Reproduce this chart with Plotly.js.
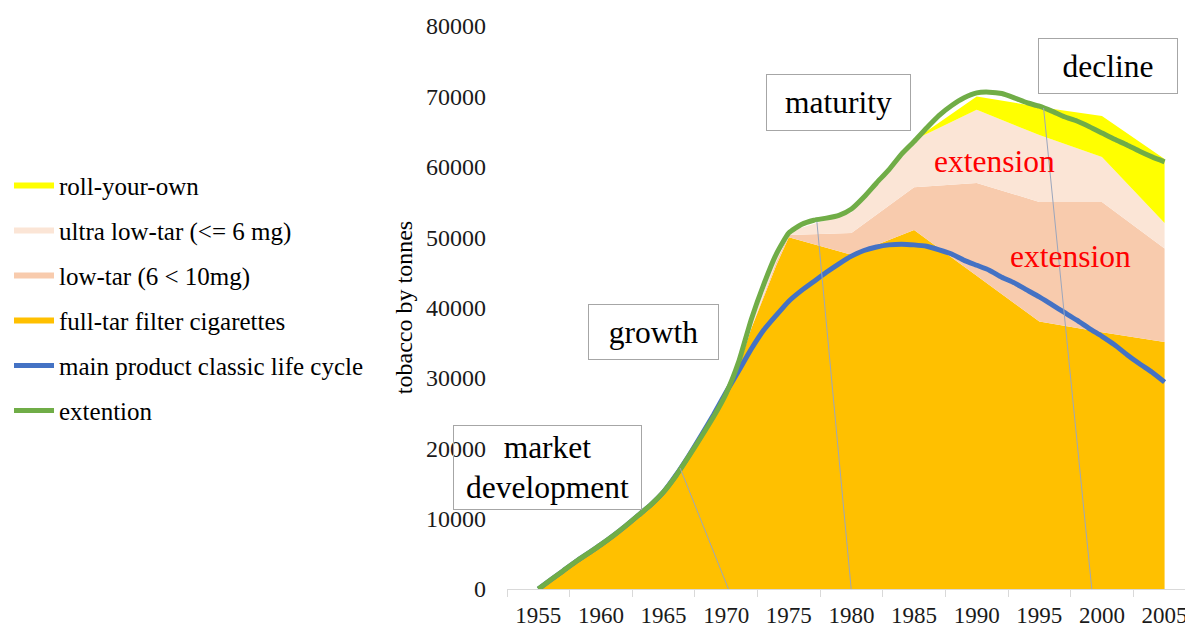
<!DOCTYPE html>
<html><head><meta charset="utf-8">
<script src="https://cdn.plot.ly/plotly-3.0.1.min.js"></script>
<style>html,body{margin:0;padding:0;background:#fff}#chart{width:1185px;height:628px}</style>
</head><body><div id="chart"></div>
<script>
// ---- data ----
const lineYears = [1955,1956,1957,1958,1959,1960,1961,1962,1963,1964,1965,1966,1967,1968,1969,1970,1971,1972,1973,1974,1975,1976,1977,1978,1979,1980,1981,1982,1983,1984,1985,1986,1987,1988,1989,1990,1991,1992,1993,1994,1995,1996,1997,1998,1999,2000,2001,2002,2003,2004,2005];
const extention = [0,1300,2600,3900,5100,6300,7600,9000,10500,12000,13800,16100,18800,21600,24500,27800,32300,38300,43300,47600,50600,51800,52400,52700,53100,54000,55700,57700,59600,61800,63600,65500,67300,68700,69800,70500,70600,70400,69800,69100,68600,67900,67100,66500,65700,64800,63900,63100,62200,61400,60700];
const mainProduct = [0,1300,2600,3900,5100,6300,7600,9000,10500,12000,13800,16200,18900,21800,24800,28000,31000,34100,36800,38900,40900,42400,43700,45000,46200,47300,48100,48600,48900,49000,48900,48700,48200,47600,46700,46000,45300,44300,43500,42500,41500,40400,39300,38200,37000,35900,34700,33300,32000,30800,29400];

const areaYears = [1955,1956,1957,1958,1959,1960,1961,1962,1963,1964,1965,1966,1967,1968,1969,1970,1971,1972,1973,1974,1975,1980,1985,1990,1995,2000,2005];
const fullTar     = [0,1100,2400,3700,4900,6100,7400,8800,10300,11800,13600,15900,18600,21400,24300,27600,31500,37000,41500,46000,50000,47500,51000,44500,38000,36500,35100];
const lowTar      = [0,0,0,0,0,0,0,0,0,0,0,0,0,0,0,0,0,0,300,500,300,3100,6100,13200,17000,18500,13300];
const ultraLowTar = [0,0,0,0,0,0,0,0,0,0,0,0,0,0,0,0,0,600,1000,1200,500,2900,6700,10400,9500,6400,3600];
const rollYourOwn = [0,0,0,0,0,0,0,0,0,0,0,0,0,0,0,0,0,0,0,0,0,0,0,1900,4000,5800,9100];

const tickYears = [1955,1960,1965,1970,1975,1980,1985,1990,1995,2000,2005];
const yTicks = [0,10000,20000,30000,40000,50000,60000,70000,80000];

// ---- traces ----
const FONT = '"Liberation Serif", "Times New Roman", serif';
function area(name, y, color, rank) {
  return {type:'scatter', mode:'none', x:areaYears, y:y, name:name, stackgroup:'one',
    fillcolor:color, line:{width:0}, legendgroup:name, legendrank:rank, hoverinfo:'x+y+name'};
}
const traces = [
  area('full-tar filter cigarettes', fullTar, '#FFC000', 4),
  area('low-tar (6 < 10mg)', lowTar, '#F8CBAD', 3),
  area('ultra low-tar (<= 6 mg)', ultraLowTar, '#FBE5D6', 2),
  area('roll-your-own', rollYourOwn, '#FFFF00', 1),
  {type:'scatter', mode:'lines', x:lineYears, y:mainProduct, name:'main product classic life cycle',
   line:{color:'#4472C4', width:5, shape:'spline', smoothing:0.5}, legendgroup:'main', legendrank:5},
  {type:'scatter', mode:'lines', x:lineYears, y:extention, name:'extention',
   line:{color:'#70AD47', width:5, shape:'spline', smoothing:0.5}, legendgroup:'ext', legendrank:6}
];

function box(text, x, y, w, h) {
  return {text:text, x:x, y:y, xref:'x', yref:'y', showarrow:false, width:w, height:h,
    bordercolor:'#a6a6a6', borderwidth:1, borderpad:0, bgcolor:'rgba(255,255,255,0)',
    font:{family:FONT, size:31.5, color:'#000'}, align:'center', valign:'middle'};
}
function red(text, x, y) {
  return {text:text, x:x, y:y, xref:'x', yref:'y', showarrow:false,
    font:{family:FONT, size:31.5, color:'#FF0000'}};
}
function guide(x0, y0, x1, y1) {
  return {type:'line', xref:'x', yref:'y', x0:x0, y0:y0, x1:x1, y1:y1,
    line:{color:'#9ba6bd', width:1}};
}

const layout = {
  width:1185, height:628,
  margin:{l:507, r:0, t:26, b:39},
  paper_bgcolor:'#ffffff', plot_bgcolor:'rgba(0,0,0,0)',
  font:{family:FONT, color:'#000'},
  showlegend:true,
  legend:{xref:'container', yref:'container', x:0.0076, y:0.741, xanchor:'left', yanchor:'top',
    font:{family:FONT, size:25, color:'#000'}, itemwidth:40, traceorder:'grouped', tracegroupgap:9.5,
    bgcolor:'rgba(0,0,0,0)'},
  xaxis:{range:[1952.5, 2006.63], tickmode:'array', tickvals:tickYears, ticktext:tickYears.map(String),
    ticks:'', showline:true, linecolor:'#d9d9d9', linewidth:1, showgrid:false, zeroline:false,
    tickfont:{family:FONT, size:23, color:'#1a1a1a'}, ticklabelstandoff:5, ticklabeloverflow:'allow',
    minor:{tickmode:'array', tickvals:tickYears.map(v => v - 2.5).concat([2007.5]), ticks:'outside', ticklen:7,
      tickcolor:'#d9d9d9', tickwidth:1, showgrid:false}},
  yaxis:{range:[0, 80000], tickmode:'array', tickvals:yTicks, tickformat:'d', ticks:'',
    showline:false, showgrid:false, zeroline:false,
    tickfont:{family:FONT, size:24, color:'#1a1a1a'}, ticklabelstandoff:20,
    title:{text:'tobacco by tonnes', font:{family:FONT, size:24, color:'#000'}, standoff:6}},
  annotations:[
    box('market<br>development', 1955.76, 17265, 187, 83),
    box('growth', 1964.18, 36450, 129, 54),
    box('maturity', 1978.96, 69146, 143, 55),
    box('decline', 2000.52, 74318, 138, 54),
    red('extension', 1991.46, 60720),
    red('extension', 1997.45, 47220)
  ],
  shapes:[
    guide(1966.32, 17194, 1970.18, 0),
    guide(1977.24, 52194, 1979.98, 0),
    guide(1995.34, 68350, 1999.19, 0)
  ]
};

Plotly.newPlot('chart', traces, layout, {displayModeBar:false, responsive:false});
</script>
</body></html>
